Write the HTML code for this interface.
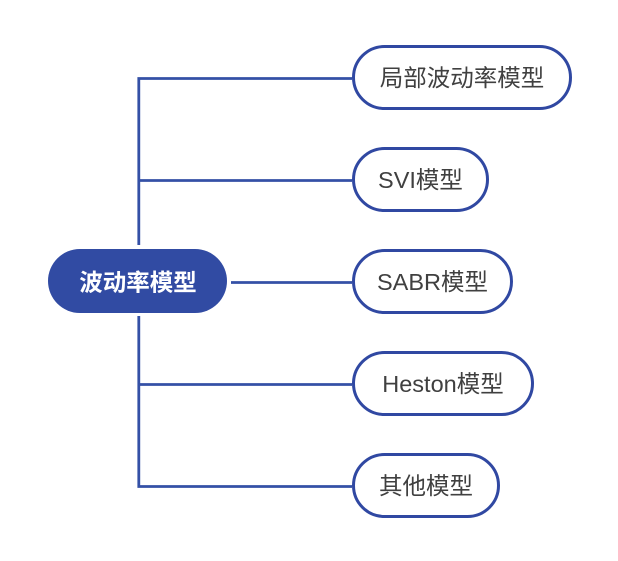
<!DOCTYPE html>
<html><head><meta charset="utf-8"><style>
html,body{margin:0;padding:0;background:#fff;}
svg{display:block;}
text{font-family:"Liberation Sans","Noto Sans CJK SC",sans-serif;}
</style></head><body>
<svg width="618" height="561" viewBox="0 0 618 561" xmlns="http://www.w3.org/2000/svg">
<g stroke="#3450a6" stroke-width="2.8" fill="none">
<path d="M352 78.5 H138.8 V245"/>
<path d="M138.8 180.5 H352"/>
<path d="M138.8 316 V486.5 H352"/>
<path d="M138.8 384.5 H352"/>
<path d="M231 282.5 H352"/>
</g>
<rect x="48" y="249" width="179" height="64" rx="32" fill="#314ba3"/>
<text x="138" y="290.5" font-size="23.5" font-weight="bold" fill="#fff" text-anchor="middle">波动率模型</text>
<g stroke="#3048a2" stroke-width="3" fill="#fff">
<rect x="353.5" y="46.5" width="217" height="62" rx="31"/>
<rect x="353.5" y="148.5" width="134" height="62" rx="31"/>
<rect x="353.5" y="250.5" width="158" height="62" rx="31"/>
<rect x="353.5" y="352.5" width="179" height="62" rx="31"/>
<rect x="353.5" y="454.5" width="145" height="62" rx="31"/>
</g>
<g font-size="23.5" fill="#404040" text-anchor="middle">
<text x="462" y="86">局部波动率模型</text>
<text x="420.5" y="188">SVI模型</text>
<text x="432.5" y="290">SABR模型</text>
<text x="443" y="392">Heston模型</text>
<text x="426" y="494">其他模型</text>
</g>
</svg>
</body></html>
